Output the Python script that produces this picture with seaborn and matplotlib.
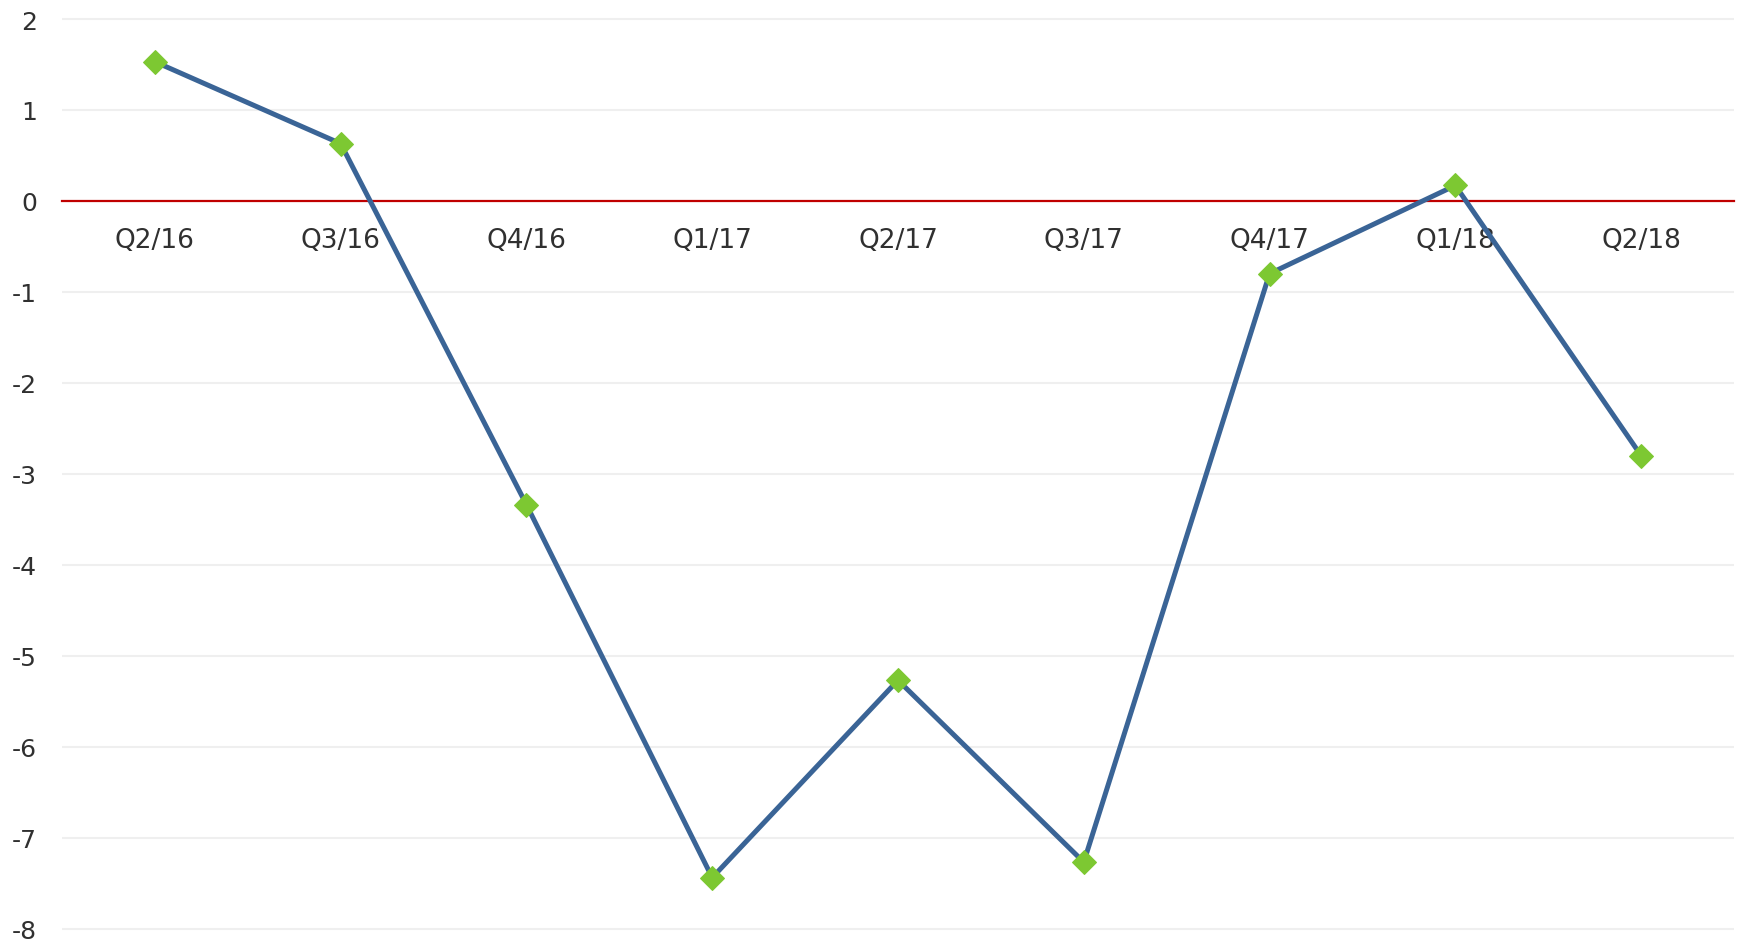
import matplotlib
matplotlib.use("Agg")
import matplotlib.pyplot as plt
import seaborn as sns
import pandas as pd

categories = ["Q2/16", "Q3/16", "Q4/16", "Q1/17", "Q2/17", "Q3/17", "Q4/17", "Q1/18", "Q2/18"]
values = [1.53, 0.63, -3.34, -7.44, -5.27, -7.27, -0.80, 0.17, -2.80]
y_ticks = [2, 1, 0, -1, -2, -3, -4, -5, -6, -7, -8]

sns.set_theme(style="white")
plt.rcParams["font.family"] = ["DejaVu Sans"]

fig = plt.figure(figsize=(17.37, 9.45), dpi=100)
ax = fig.add_axes([62 / 1737, 0, (1734 - 62) / 1737, 1])

df = pd.DataFrame({"quarter": categories, "value": values})
sns.lineplot(data=df, x="quarter", y="value", sort=False, ax=ax,
             color="#3A6496", linewidth=3.6, marker="D", markersize=12,
             markerfacecolor="#7DC832", markeredgecolor="#7DC832", zorder=3)

ax.set_xlim(-0.5, len(categories) - 0.5)
ax.set_ylim(-8.17, 2.22)
ax.set_yticks(y_ticks)
ax.set_yticklabels([str(t) for t in y_ticks])
ax.yaxis.grid(True, color="#EFEFEF", linewidth=1.5)
ax.xaxis.grid(False)
ax.set_axisbelow(True)

for s in ["top", "right", "left"]:
    ax.spines[s].set_visible(False)
ax.spines["bottom"].set_position(("data", 0))
ax.spines["bottom"].set_color("#C00000")
ax.spines["bottom"].set_linewidth(1.6)
ax.spines["bottom"].set_zorder(2.5)

ax.tick_params(axis="x", length=0, pad=19, labelsize=19, labelcolor="#303030")
ax.tick_params(axis="y", length=0, pad=18, labelsize=18, labelcolor="#303030")
ax.set_xlabel("")
ax.set_ylabel("")

fig.savefig("out.png", dpi=100, facecolor="white")
